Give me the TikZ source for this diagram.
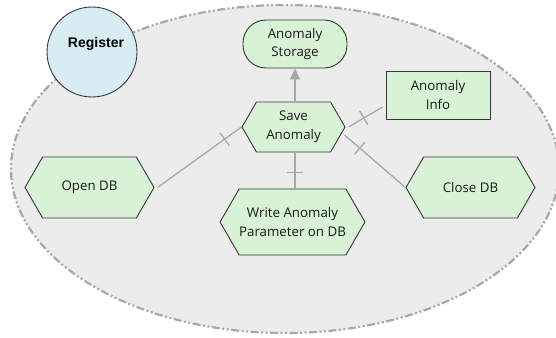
\documentclass[tikz,border=0pt]{standalone}
\usepackage{fontspec}
\setmainfont{Open Sans}
\newfontfamily\regfont{Liberation Sans}
\usetikzlibrary{shapes.symbols,shapes.geometric,arrows.meta,decorations.markings}
\definecolor{boxfill}{RGB}{216,242,213}
\definecolor{boxline}{RGB}{55,55,55}
\definecolor{bgfill}{RGB}{236,236,236}
\definecolor{dashcol}{RGB}{168,168,168}
\definecolor{conncol}{RGB}{168,168,168}
\definecolor{regfill}{RGB}{216,236,244}
\definecolor{txt}{RGB}{25,25,25}
\tikzset{
  base/.style={draw=boxline, fill=boxfill, line width=0.9pt, text=txt, align=center,
    font=\fontsize{13.3}{18.5}\selectfont, inner sep=0pt},
  hexa/.style={base, signal, signal to=east and west, signal pointer angle=120},
  stadium/.style={base, rectangle, rounded corners=23pt},
  infobox/.style={base, rectangle},
  conn/.style={draw=conncol, line width=1.3pt},
  tick/.style={postaction={decorate, decoration={markings,
    mark=at position #1 with {\draw[conncol, line width=1.3pt] (0,-8pt) -- (0,8pt);}}}}
}
\begin{document}
\begin{tikzpicture}[x=1pt,y=-1pt]
\useasboundingbox (0,0) rectangle (556,337);
\node[draw=dashcol, fill=bgfill, line width=2.2pt, dash pattern=on 8pt off 2.5pt on 2pt off 2.5pt on 2pt off 2.5pt,
  ellipse, minimum width=548pt, minimum height=328pt] (region) at (285,169) {};
\node[draw=boxline, fill=regfill, circle, minimum size=90pt, line width=0.9pt, inner sep=0pt] (reg) at (92,52) {};
\node[font=\regfont\bfseries\fontsize{14}{16}\selectfont, text=black] (regl) at (96,44) {Register};
\node[stadium, minimum width=104pt, minimum height=48pt] (store) at (295,44) {Anomaly\\Storage};
\node[hexa, minimum width=103pt, minimum height=50pt] (save) at (293.5,127) {Save\\Anomaly};
\node[infobox, minimum width=104pt, minimum height=48pt] (info) at (438,95) {Anomaly\\Info};
\node[hexa, minimum width=129pt, minimum height=61pt] (open) at (89.5,187.5) {Open DB};
\node[hexa, minimum width=129pt, minimum height=61pt] (close) at (470.5,187.5) {Close DB};
\node[hexa, minimum width=129pt, minimum height=66pt] (write) at (292.5,222) {Write Anomaly\\Parameter on DB};
\draw[conn, -{Triangle[width=10pt,length=11pt]}] (save.north -| store.south) -- (store.south);
\draw[conn, tick=0.55] (save.south -| store.south) -- (write.north -| store.south);
\draw[conn, tick=0.8] ([xshift=3pt]open.east) -- (save.west);
\draw[conn, tick=0.45] ([xshift=3pt]save.east) -- ([yshift=-12pt,xshift=-3pt]info.west);
\draw[conn, tick=0.25] ([xshift=-1pt,yshift=-8pt]save.east) -- (close.west);
\end{tikzpicture}
\end{document}
